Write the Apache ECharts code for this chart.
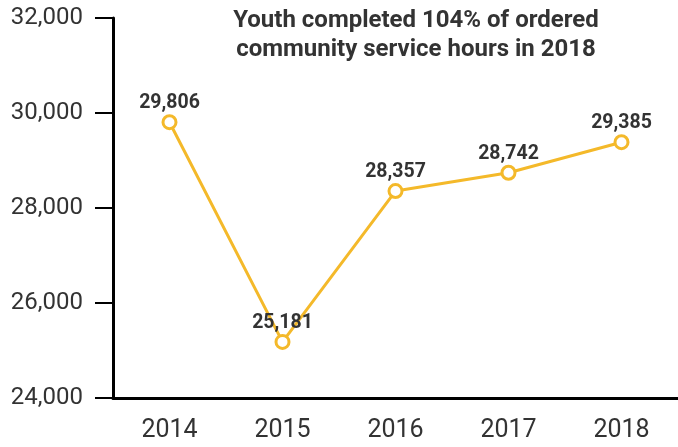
<!DOCTYPE html>
<html><head><meta charset="utf-8">
<script src="https://cdn.jsdelivr.net/npm/echarts@6/dist/echarts.min.js"></script>
<style>html,body{margin:0;padding:0;background:#fff}#c{width:678px;height:447px}</style>
</head><body><div id="c"></div>
<script>
const categories = ['2014','2015','2016','2017','2018'];
const hours = [29806, 25181, 28357, 28742, 29385];
const titleLines = ['Youth completed 104% of ordered', 'community service hours in 2018'];
const fmt = v => v.toString().replace(/\B(?=(\d{3})+(?!\d))/g, ',');
const chart = echarts.init(document.getElementById('c'));
chart.setOption({
  animation: false,
  title: {
    text: titleLines.join('\n'),
    left: 411, top: 1, textAlign: 'center',
    textStyle: {fontFamily: 'Roboto', fontWeight: 'bold', fontSize: 24, color: '#333', lineHeight: 29}
  },
  grid: {left: 113, right: -5, top: 18, bottom: 49},
  xAxis: {
    type: 'category', data: categories, boundaryGap: true,
    axisLine: {lineStyle: {color: '#000', width: 3}},
    axisTick: {alignWithLabel: true, length: 14, lineStyle: {color: '#000', width: 2}},
    axisLabel: {fontFamily: 'Roboto', fontSize: 25, color: '#333', margin: 20}
  },
  yAxis: {
    type: 'value', min: 24000, max: 32000, interval: 2000,
    axisLine: {show: true, lineStyle: {color: '#000', width: 3}},
    axisTick: {show: true, length: 18, lineStyle: {color: '#000', width: 2}},
    splitLine: {show: false},
    axisLabel: {fontFamily: 'Roboto', fontSize: 24, color: '#333', margin: 30, formatter: fmt}
  },
  series: [{
    type: 'line', data: hours,
    lineStyle: {color: '#F4B92A', width: 3},
    symbol: 'circle', symbolSize: 13,
    itemStyle: {color: '#fff', borderColor: '#F4B92A', borderWidth: 3},
    label: {show: true, position: 'top', distance: 1, formatter: p => fmt(p.value),
      fontFamily: 'Roboto', fontWeight: 'bold', fontSize: 19.5, color: '#333'}
  }]
});
</script></body></html>
